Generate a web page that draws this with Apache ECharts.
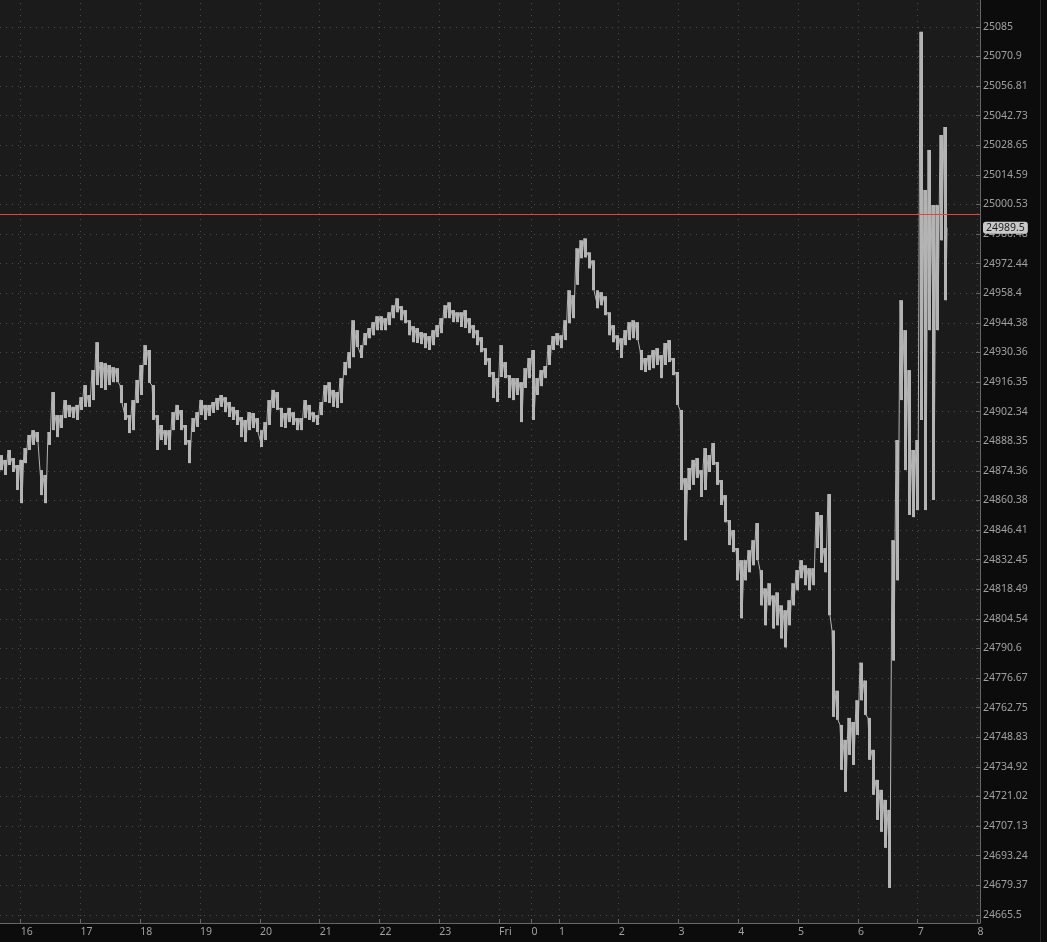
<!DOCTYPE html>
<html>
<head>
<meta charset="utf-8">
<script src="https://cdn.jsdelivr.net/npm/echarts@6/dist/echarts.min.js"></script>
<style>
html,body{margin:0;padding:0;background:#0c0c0c;overflow:hidden;}
#c{width:1047px;height:942px;}
</style>
</head>
<body>
<div id="c"></div>
<script>
// ---- data ----
const startHour = 15.654;          // time of first sample (hours)
const stepHours = 4 / 59.8;         // ~4 minutes between samples
const highs = [
24881.8,24879.5,24884.2,24880.4,24877.1,24879.5,24885.1,24891.3,24893.6,24892.7,
24874.7,24872.4,24892.7,24911.6,24900.7,24900.7,24907.8,24905.5,24904.6,24905.5,
24909.2,24914.9,24910.2,24922.0,24935.2,24925.8,24925.3,24924.4,24923.4,24922.9,
24914.9,24906.4,24900.7,24907.8,24917.3,24924.4,24933.8,24931.5,24914.9,24900.7,
24896.0,24893.6,24893.6,24902.1,24905.5,24903.1,24896.0,24888.9,24899.3,24902.1,
24907.8,24905.5,24905.5,24906.9,24908.8,24910.2,24909.2,24906.9,24904.6,24903.1,
24899.8,24898.4,24902.1,24901.7,24899.3,24893.6,24897.4,24907.8,24912.6,24911.6,
24904.1,24901.7,24904.1,24902.1,24899.3,24899.3,24907.8,24905.5,24902.1,24900.7,
24906.9,24914.9,24916.3,24912.6,24911.6,24918.2,24925.8,24930.5,24945.6,24940.9,
24933.8,24939.5,24941.9,24944.7,24947.5,24947.5,24946.6,24949.4,24952.7,24956.0,
24952.3,24950.4,24945.6,24942.8,24941.9,24940.0,24939.5,24938.1,24940.9,24943.3,
24946.6,24952.7,24954.1,24950.4,24949.4,24949.4,24950.4,24946.6,24943.3,24940.9,
24937.6,24932.4,24927.7,24921.1,24918.2,24933.8,24925.8,24919.6,24918.2,24918.2,
24916.3,24922.9,24927.7,24931.5,24918.2,24922.0,24923.9,24933.8,24938.1,24939.5,
24938.5,24945.6,24959.8,24957.5,24979.7,24983.5,24984.4,24977.8,24974.0,24959.8,
24958.9,24957.0,24949.4,24943.3,24938.5,24937.1,24940.9,24944.7,24945.6,24944.7,
24931.5,24927.7,24929.1,24931.5,24932.4,24929.1,24934.8,24936.2,24927.7,24921.1,
24903.1,24870.9,24875.7,24879.5,24880.4,24874.7,24885.1,24881.8,24887.5,24878.5,
24870.0,24862.9,24851.1,24846.4,24837.9,24832.2,24832.2,24836.9,24841.6,24849.7,
24827.5,24818.9,24821.3,24815.6,24817.0,24810.9,24808.6,24813.3,24821.3,24827.5,
24832.2,24829.8,24828.4,24828.4,24854.9,24853.5,24837.9,24863.4,24799.1,24770.7,
24754.6,24747.6,24757.9,24756.0,24766.2,24783.9,24775.5,24757.9,24742.9,24728.8,
24724.1,24719.4,24714.7,24841.6,24888.9,24955.1,24940.9,24922.0,24884.2,24888.9,
25082.6,25007.4,25026.4,25000.2,25000.2,25033.5,25037.3
];
const lows = [
24874.7,24872.4,24877.1,24873.8,24865.3,24859.1,24878.0,24884.2,24886.6,24888.0,
24862.9,24859.1,24886.6,24893.6,24890.3,24894.6,24899.3,24899.8,24899.3,24898.4,
24903.1,24904.6,24904.6,24907.8,24914.9,24913.5,24912.6,24914.9,24916.3,24916.3,
24906.4,24898.4,24892.2,24893.6,24906.4,24910.2,24924.4,24915.9,24898.4,24884.2,
24888.9,24886.6,24884.2,24893.6,24898.4,24893.6,24886.6,24878.0,24892.7,24895.1,
24900.7,24898.4,24900.3,24901.7,24903.1,24904.6,24902.1,24899.8,24898.4,24896.0,
24890.3,24888.0,24893.6,24894.6,24892.7,24885.6,24888.9,24896.0,24904.1,24903.1,
24895.1,24894.6,24897.4,24896.0,24893.6,24893.6,24899.3,24898.4,24897.4,24896.0,
24900.7,24906.9,24906.4,24904.6,24904.1,24906.4,24919.6,24922.9,24928.1,24932.9,
24927.7,24933.8,24937.1,24938.5,24940.9,24940.9,24940.9,24943.3,24946.6,24949.4,
24945.6,24944.2,24938.5,24935.2,24934.8,24934.3,24932.4,24931.5,24933.8,24937.6,
24939.5,24946.6,24946.6,24944.7,24944.7,24942.4,24941.9,24939.5,24937.1,24933.8,
24930.5,24924.4,24918.7,24908.8,24906.9,24918.7,24918.2,24908.8,24907.8,24910.2,
24897.4,24913.5,24918.2,24898.4,24910.2,24914.4,24918.2,24924.4,24931.5,24933.8,
24932.4,24936.2,24944.2,24946.6,24962.4,24975.0,24975.4,24970.2,24959.8,24951.3,
24952.7,24948.0,24938.5,24935.2,24931.5,24927.7,24933.8,24936.2,24937.1,24936.2,
24922.0,24921.1,24922.0,24922.9,24924.4,24918.2,24924.4,24925.8,24919.6,24905.5,
24865.3,24841.6,24865.3,24867.7,24871.0,24862.0,24865.3,24873.8,24877.1,24867.7,
24858.2,24850.1,24839.3,24836.0,24822.7,24804.8,24822.7,24826.5,24829.8,24832.2,
24810.9,24801.5,24810.9,24800.0,24801.5,24795.3,24791.1,24801.5,24810.9,24818.0,
24823.7,24820.4,24818.0,24820.4,24837.9,24831.0,24826.5,24806.2,24758.4,24757.0,
24733.5,24723.2,24740.5,24735.8,24749.9,24766.2,24759.3,24738.2,24721.8,24710.0,
24704.4,24696.9,24678.1,24784.9,24822.7,24907.8,24874.7,24853.5,24852.5,24855.8,
24898.4,24855.8,24940.9,24860.6,24940.9,24983.5,24955.1
];
const lastPrice = 24989.5;
const refLevel = 24995.7;

const yTickLabels = ['24665.5','24679.37','24693.24','24707.13','24721.02','24734.92','24748.83',
'24762.75','24776.67','24790.6','24804.54','24818.49','24832.45','24846.41','24860.38','24874.36',
'24888.35','24902.34','24916.35','24930.36','24944.38','24958.4','24972.44','24986.48','25000.53',
'25014.59','25028.65','25042.73','25056.81','25070.9','25085','25099.1'];
const xTickHours = [16,17,18,19,20,21,22,23,24,24.54,25,26,27,28,29,30,31,32];
const xTickLabels = ['16','17','18','19','20','21','22','23','Fri','0','1','2','3','4','5','6','7','8'];

// ---- build ----
const yTickValues = yTickLabels.map(Number);
const lineData = [];
const rangeData = [];
highs.forEach((h, i) => {
  const t = startHour + i * stepHours;
  lineData.push([t, h]);
  lineData.push([t + stepHours / 2, lows[i]]);
  rangeData.push([t, h, lows[i], t + stepHours * 0.75]);
});
lineData.push([startHour + (highs.length - 1) * stepHours + stepHours * 0.75, lastPrice]);

const labelColor = '#a0a0a0';
const axisColor = '#666666';
const bandColor = '#b4b4b4';
const font = '"Noto Sans", "Open Sans", sans-serif';

const chart = echarts.init(document.getElementById('c'), null, {renderer: 'canvas'});
chart.setOption({
  animation: false,
  backgroundColor: '#0c0c0c',
  grid: {
    left: 0, right: 67, top: -3, bottom: 19,
    show: true, backgroundColor: '#1b1b1b', borderWidth: 0,
    containLabel: false, outerBoundsMode: 'none'
  },
  xAxis: {
    type: 'value',
    min: 15.654, max: 32.042,
    axisLine: {show: true, lineStyle: {color: axisColor, width: 1}},
    axisTick: {show: true, inside: true, length: 4, customValues: xTickHours, lineStyle: {color: axisColor}},
    axisLabel: {
      show: true, customValues: xTickHours, align: 'left', margin: 4,
      color: labelColor, fontSize: 10.5, fontFamily: font,
      formatter: v => {
        const i = xTickHours.findIndex(h => Math.abs(h - v) < 0.001);
        return i >= 0 ? xTickLabels[i] : '';
      }
    },
    splitLine: {show: true, lineStyle: {color: '#4a4a4a', type: [1, 5], width: 1}}
  },
  yAxis: {
    type: 'log',
    position: 'right',
    min: 24661.66, max: 25099.2,
    axisLine: {show: true, lineStyle: {color: axisColor, width: 1}},
    axisTick: {show: true, inside: true, length: 4, customValues: yTickValues, lineStyle: {color: axisColor}},
    axisLabel: {
      show: true, customValues: yTickValues, margin: 3, align: 'left',
      color: labelColor, fontSize: 10.5, fontFamily: font,
      formatter: v => {
        let best = -1, bd = 1e9;
        yTickValues.forEach((t, i) => { const d = Math.abs(t - v); if (d < bd) { bd = d; best = i; } });
        return bd < 0.05 ? yTickLabels[best] : '';
      }
    },
    splitLine: {show: true, lineStyle: {color: '#4a4a4a', type: [1, 5], width: 1}}
  },
  series: [{
    type: 'custom',
    data: rangeData,
    encode: {x: [0, 3], y: [1, 2]},
    silent: true,
    clip: true,
    renderItem: (params, api) => {
      const top = api.coord([api.value(0), api.value(1)]);
      const bot = api.coord([api.value(3), api.value(2)]);
      return {
        type: 'rect',
        shape: {x: top[0], y: top[1], width: Math.max(1, bot[0] - top[0]), height: Math.max(1, bot[1] - top[1])},
        style: {fill: bandColor}
      };
    }
  }, {
    type: 'line',
    data: lineData,
    showSymbol: false,
    symbol: 'none',
    sampling: null,
    lineStyle: {color: bandColor, width: 1},
    emphasis: {disabled: true},
    markLine: {
      silent: true,
      symbol: 'none',
      animation: false,
      data: [
        {yAxis: refLevel, lineStyle: {color: '#e0453f', width: 1, type: 'solid'}, label: {show: false}}
      ]
    }
  }]
});

// last-price tag on the price axis, positioned through the axis scale
const tagY = chart.convertToPixel({yAxisIndex: 0}, lastPrice);
const axisX = chart.convertToPixel({xAxisIndex: 0}, 32.042);
chart.setOption({
  graphic: [{
    type: 'line', silent: true,
    shape: {x1: chart.getWidth() - 6.5, y1: 0, x2: chart.getWidth() - 6.5, y2: chart.getHeight()},
    style: {stroke: '#2a2a2a', lineWidth: 1}
  }, {
    type: 'text', silent: true, z: 100,
    x: axisX + 3, y: tagY,
    style: {
      text: String(lastPrice), fill: '#1c1c1c',
      font: '10.5px "Noto Sans", "Open Sans", sans-serif',
      backgroundColor: '#c8c8c8', borderRadius: 3, padding: [1, 3, 0, 3],
      verticalAlign: 'middle', align: 'left'
    }
  }]
});
</script>
</body>
</html>
